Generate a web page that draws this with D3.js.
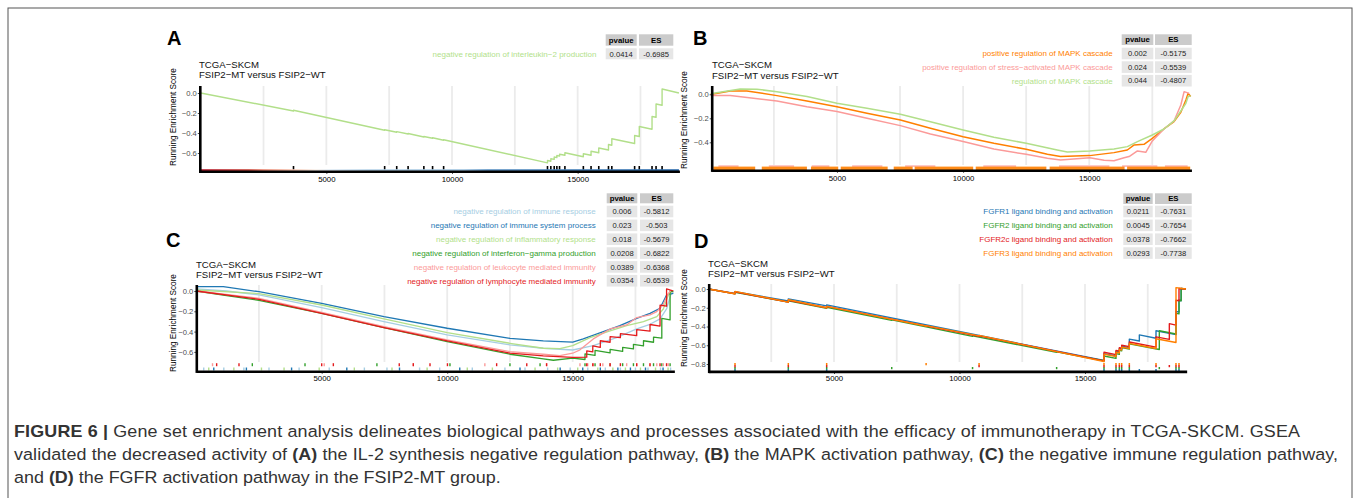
<!DOCTYPE html>
<html>
<head>
<meta charset="utf-8">
<script src="https://cdn.jsdelivr.net/npm/d3@7"></script>
<style>
  body { margin: 0; background: #fff; }
  text { font-family: "Liberation Sans", Arial, Helvetica, sans-serif; }
</style>
</head>
<body>
<div id="fig"></div>
<script>
// ---------------- data ----------------
var N_GENES = 19030;
var xTicks = [5000, 10000, 15000];
var xGrid = [2500, 5000, 7500, 10000, 12500, 15000, 17500];

// A
var aSets = ["negative regulation of interleukin\u22122 production"];
var aPvalue = ["0.0414"];
var aES = ["-0.6985"];
var aCurve = [[0,0],[3693,-0.18],[3693,-0.172],[7320,-0.372],[7320,-0.367],[7800,-0.392],[7800,-0.386],
  [8253,-0.41],[8253,-0.405],[8880,-0.44],[8880,-0.435],[9227,-0.453],[9227,-0.448],[9667,-0.472],[9667,-0.467],
  [13800,-0.6985],[13800,-0.675],[13933,-0.682],[13933,-0.657],[14067,-0.664],[14067,-0.64],[14173,-0.646],
  [14173,-0.625],[14280,-0.631],[14280,-0.612],[14493,-0.623],[14493,-0.597],[15227,-0.637],[15227,-0.607],
  [15533,-0.623],[15533,-0.582],[15840,-0.598],[15840,-0.55],[16227,-0.57],[16227,-0.515],[16360,-0.522],
  [16360,-0.458],[17267,-0.505],[17267,-0.425],[17453,-0.435],[17453,-0.335],[17960,-0.362],[17960,-0.235],
  [18120,-0.243],[18120,-0.11],[18360,-0.123],[18360,0.04],[19030,0.0]];
var aHits = [3693,7320,7800,8253,8880,9227,9667,13800,13933,14067,14173,14280,14493,15227,15533,15840,
  16227,16360,17267,17453,17960,18120,18360];
var aYTicks = [0, -0.2, -0.4, -0.6];

// B
var bSets = ["positive regulation of MAPK cascade",
  "positive regulation of stress\u2212activated MAPK cascade",
  "regulation of MAPK cascade"];
var bPvalue = ["0.002", "0.024", "0.044"];
var bES = ["-0.5175", "-0.5539", "-0.4807"];
var bCurves = [
  [[0,0],[106,0.003],[770,0.028],[1430,0.028],[2620,-0.011],[3810,-0.056],[5000,-0.103],[6190,-0.158],
   [7515,-0.214],[8705,-0.283],[10000,-0.353],[11220,-0.408],[12500,-0.458],[13340,-0.5],[13860,-0.5175],
   [15020,-0.511],[15980,-0.486],[16510,-0.464],[16780,-0.422],[17170,-0.417],[17500,-0.367],[17960,-0.289],
   [18360,-0.228],[18630,-0.15],[18830,-0.047],[18920,0.008],[19020,-0.019]],
  [[0,0],[106,-0.011],[770,-0.011],[2620,-0.056],[3810,-0.103],[5000,-0.144],[6190,-0.2],[7515,-0.261],
   [8705,-0.331],[10000,-0.394],[11220,-0.456],[12500,-0.5],[13340,-0.533],[13860,-0.547],[15020,-0.528],
   [15590,-0.55],[15980,-0.5539],[16380,-0.528],[16580,-0.519],[16910,-0.472],[17240,-0.483],[17500,-0.389],
   [17960,-0.289],[18360,-0.222],[18630,-0.089],[18760,0.022],[18960,0.008]],
  [[0,0],[106,0.008],[1164,0.044],[1826,0.042],[2620,0.022],[3810,-0.019],[5000,-0.075],[6190,-0.117],
   [7515,-0.167],[8705,-0.228],[10000,-0.297],[11220,-0.358],[12500,-0.408],[13730,-0.464],[14130,-0.4807],
   [15020,-0.472],[15980,-0.456],[16510,-0.436],[16910,-0.394],[17500,-0.339],[17960,-0.289],[18360,-0.222],
   [18630,-0.139],[18830,-0.075],[18920,-0.019],[19020,-0.014]]
];
// dense hit stretches of the rug (rank from, rank to)
var bRugOrange = [[100,1760],[2020,3810],[3970,5050],[5150,7010],[7250,8000],[8080,10400],[10500,13300],
  [13430,16400],[16500,19000]];
var bRugPink = [[300,1100],[2300,3300],[4000,4700],[5600,6800],[7700,8900],[10800,12100],[13800,15800],
  [16300,17700],[18000,18900]];
var bYTicks = [0, -0.2, -0.4];

// C
var cSets = ["negative regulation of immune response",
  "negative regulation of immune system process",
  "negative regulation of inflammatory response",
  "negative regulation of interferon\u2212gamma production",
  "negative regulation of leukocyte mediated immunity",
  "negative regulation of lymphocyte mediated immunity"];
var cPvalue = ["0.006", "0.023", "0.018", "0.0208", "0.0389", "0.0354"];
var cES = ["-0.5812", "-0.503", "-0.5679", "-0.6822", "-0.6368", "-0.6539"];
var cCurves = [
  [[0,0.02],[1214,0.0],[2500,-0.039],[5000,-0.164],[7480,-0.302],[10000,-0.433],[12500,-0.531],[13830,-0.564],
   [15000,-0.5812],[15820,-0.538],[16750,-0.459],[17550,-0.374],[18080,-0.328],[18480,-0.275],[18740,-0.177],
   [18940,-0.007],[19010,-0.013]],
  [[0,0.043],[1080,0.043],[2500,-0.007],[5000,-0.121],[7480,-0.252],[10000,-0.367],[12500,-0.466],[13830,-0.492],
   [15000,-0.503],[15420,-0.472],[16220,-0.4],[16880,-0.341],[17550,-0.269],[18080,-0.22],[18480,-0.17],
   [18740,-0.039],[19010,-0.023]],
  [[0,0.01],[2500,-0.026],[5000,-0.138],[7480,-0.275],[10000,-0.41],[12500,-0.515],[13830,-0.564],[14490,-0.5679],
   [15000,-0.538],[15690,-0.459],[16490,-0.393],[17150,-0.341],[17820,-0.302],[18350,-0.252],[18610,-0.177],
   [18810,-0.039],[18940,-0.007]],
  [[0,0],[1214,-0.046],[2500,-0.092],[5000,-0.22],[7480,-0.361],[10000,-0.498],[12500,-0.623],[13830,-0.669],
   [14230,-0.6822],[15000,-0.662],[15490,-0.675],[15490,-0.62],[15890,-0.635],[15890,-0.585],[16490,-0.61],
   [16490,-0.575],[16990,-0.595],[16990,-0.555],[17420,-0.57],[17420,-0.525],[17820,-0.54],[17820,-0.49],
   [18220,-0.505],[18220,-0.455],[18550,-0.465],[18550,-0.27],[18880,-0.285],[18880,0.0],[19010,-0.005]],
  [[0,0],[2500,-0.072],[5000,-0.21],[7480,-0.351],[10000,-0.482],[12500,-0.597],[13830,-0.623],[14490,-0.6368],
   [15000,-0.613],[15290,-0.58],[15820,-0.472],[16490,-0.374],[17150,-0.334],[17550,-0.262],[18080,-0.236],
   [18350,-0.203],[18610,-0.131],[18810,-0.023],[18940,0.01]],
  [[0,0],[2500,-0.082],[5000,-0.22],[7480,-0.361],[10000,-0.492],[12500,-0.613],[13830,-0.639],[15000,-0.6539],
   [15560,-0.652],[15560,-0.59],[15800,-0.6],[15800,-0.54],[16100,-0.555],[16100,-0.49],[16490,-0.505],
   [16490,-0.45],[16900,-0.46],[16900,-0.42],[17550,-0.44],[17550,-0.38],[18080,-0.395],[18080,-0.33],
   [18480,-0.345],[18480,-0.14],[18740,-0.15],[18740,0.02],[19010,0.0]]
];
var cHits = [
  [300,1100,1900,2900,4100,5300,6700,7600,8900,9700,11000,12300,13100,14000,14900,15600,16300,16900,17500,18000,18500,18900],
  [700,2000,3800,6000,8100,10500,12900,14500,15400,16100,16800,17300,17900,18600],
  [500,1500,2600,3500,4900,6300,7800,9200,10800,11800,13500,14400,15200,16000,16600,17100,17700,18300,18800],
  [2236,4335,7200,10110,12500,13700,15490,15890,16490,16990,17420,17820,18220,18550,18880],
  [650,5100,8650,11500,13960,15290,15600,15820,16200,16490,17150,17550,18080,18350,18610,18810],
  [815,1705,5000,5464,8090,8650,9315,10010,11970,13170,13960,15560,15800,16100,16490,16900,17550,18080,18480,18740]
];
var cYTicks = [0, -0.2, -0.4, -0.6];

// D
var dSets = ["FGFR1 ligand binding and activation", "FGFR2 ligand binding and activation",
  "FGFR2c ligand binding and activation", "FGFR3 ligand binding and activation"];
var dPvalue = ["0.0211", "0.0045", "0.0378", "0.0293"];
var dES = ["-0.7631", "-0.7654", "-0.7662", "-0.7738"];
var dCurves = [
  [[0,0],[1056,-0.047],[1056,-0.028],[3180,-0.128],[3180,-0.105],[4708,-0.18],[4708,-0.17],[15757,-0.7631],
   [15757,-0.69],[16235,-0.715],[16235,-0.665],[16368,-0.672],[16368,-0.635],[16461,-0.64],[16461,-0.61],
   [16766,-0.625],[16766,-0.535],[17165,-0.555],[17165,-0.49],[17829,-0.525],[17829,-0.445],[18625,-0.487],
   [18625,-0.24],[18745,-0.245],[18745,-0.12],[18830,-0.125],[18830,0.005],[19024,0.0]],
  [[0,0],[1056,-0.052],[1056,-0.035],[3180,-0.14],[3180,-0.125],[4708,-0.205],[4708,-0.195],[7300,-0.335],
   [7300,-0.33],[10520,-0.505],[10520,-0.5],[13870,-0.675],[13870,-0.67],[15757,-0.7654],[15757,-0.715],
   [16235,-0.74],[16235,-0.69],[16368,-0.697],[16368,-0.655],[16461,-0.66],[16461,-0.625],[16766,-0.64],
   [16766,-0.585],[17961,-0.645],[17961,-0.445],[18625,-0.48],[18625,-0.26],[18745,-0.265],[18745,-0.12],
   [18830,-0.125],[18830,0.005],[19024,0.0]],
  [[0,0],[1056,-0.05],[1056,-0.03],[3180,-0.14],[3180,-0.12],[4708,-0.2],[4708,-0.185],[10780,-0.505],
   [10780,-0.5],[15757,-0.7662],[15757,-0.675],[16235,-0.7],[16235,-0.655],[16368,-0.662],[16368,-0.625],
   [16461,-0.63],[16461,-0.6],[16766,-0.615],[16766,-0.565],[17829,-0.62],[17829,-0.51],[18360,-0.538],
   [18360,-0.37],[18625,-0.385],[18625,-0.12],[18745,-0.125],[18745,0.005],[19024,0.0]],
  [[0,0],[1056,-0.05],[1056,-0.025],[3180,-0.14],[3180,-0.115],[4708,-0.2],[4708,-0.185],[8670,-0.395],
   [8670,-0.39],[10780,-0.5],[10780,-0.495],[15757,-0.7738],[15757,-0.695],[16235,-0.72],[16235,-0.675],
   [16368,-0.682],[16368,-0.645],[16461,-0.65],[16461,-0.62],[16766,-0.635],[16766,-0.58],[17829,-0.635],
   [17829,-0.53],[18625,-0.57],[18625,0.015],[19024,0.0]]
];
var dHits = [
  [1056,3180,4708,15757,16235,16368,16461,16766,17165,17829,18625,18745],
  [1056,3180,4708,7300,10520,13870,15757,16235,16368,16461,16766,17961,18625,18745],
  [1056,3180,4708,10780,15757,16235,16368,16461,16766,17829,18360,18625,18745],
  [1056,3180,4708,8670,10780,15757,16235,16368,16461,16766,17829,18625,18745]
];
var dYTicks = [0, -0.2, -0.4, -0.6, -0.8];

var captionLines = [
  [["FIGURE 6 | ", true], ["Gene set enrichment analysis delineates biological pathways and processes associated with the efficacy of immunotherapy in TCGA-SKCM. GSEA", false]],
  [["validated the decreased activity of ", false], ["(A)", true], [" the IL-2 synthesis negative regulation pathway, ", false],
   ["(B)", true], [" the MAPK activation pathway, ", false], ["(C)", true], [" the negative immune regulation pathway,", false]],
  [["and ", false], ["(D)", true], [" the FGFR activation pathway in the FSIP2-MT group.", false]]
];

// ---------------- styles ----------------
var aColors = ["#b2df8a"];
var bColors = ["#ff7f00", "#fb9a99", "#b2df8a"];
var cColors = ["#a6cee3", "#1f78b4", "#b2df8a", "#33a02c", "#fb9a99", "#e31a1c"];
var dColors = ["#1f78b4", "#33a02c", "#e31a1c", "#ff7f00"];
var rankGradient = [[0,"#b2182b"],[0.1,"#c8453a"],[0.13,"#e8836e"],[0.19,"#f6c4b0"],[0.24,"#f7efe9"],
  [0.27,"#dfeaf3"],[0.35,"#b7d3e8"],[0.55,"#9fc3df"],[0.6,"#5d93c4"],[1,"#2b6aab"]];

var W = 1357, H = 498;
var svg = d3.select("#fig").append("svg").attr("width", W).attr("height", H);

svg.append("rect").attr("x", 8).attr("y", 8).attr("width", 1344).attr("height", 520)
  .attr("fill", "none").attr("stroke", "#555").attr("stroke-width", 1);

function setup(p) {
  var g = svg.append("g");
  var x = d3.scaleLinear().domain([0, N_GENES]).range([p.x0, p.x0 + p.kx * N_GENES]);
  var y = d3.scaleLinear().domain([0, -1]).range([p.yZero, p.yZero + p.ky]);

  g.selectAll("line.grid").data(xGrid).join("line")
    .attr("x1", d => x(d)).attr("x2", d => x(d))
    .attr("y1", p.top).attr("y2", p.lineBottom)
    .attr("stroke", "#ebebeb").attr("stroke-width", 1.8);

  // panel letter + titles
  svg.append("text").attr("x", p.letter[0]).attr("y", p.letter[1]).text(p.name)
    .attr("font-size", 20).attr("font-weight", "bold");
  svg.append("text").attr("x", p.title[0]).attr("y", p.title[1]).text("TCGA\u2212SKCM")
    .attr("font-size", 9.6).attr("fill", "#111");
  svg.append("text").attr("x", p.title[0]).attr("y", p.title[1] + 10.5).text("FSIP2\u2212MT versus FSIP2\u2212WT")
    .attr("font-size", 9.6).attr("fill", "#111");
  svg.append("text").attr("transform", "translate(" + p.ylab[0] + "," + p.ylab[1] + ") rotate(-90)")
    .attr("text-anchor", "middle").attr("font-size", 8.2).text("Running Enrichment Score");
  return { g: g, x: x, y: y, p: p };
}

function curves(c, data, colors, w) {
  var line = d3.line().x(d => c.x(d[0])).y(d => c.y(d[1]));
  c.g.selectAll("path.es" + c.p.name).data(data).join("path")
    .attr("d", line).attr("fill", "none")
    .attr("stroke", (d, i) => colors[i]).attr("stroke-width", w).attr("stroke-linejoin", "round");
}

function axes(c, yTicks) {
  var p = c.p;
  var ya = d3.axisLeft(c.y).tickValues(yTicks).tickFormat(d3.format(".1f")).tickSize(2.5).tickPadding(1);
  var gy = c.g.append("g").attr("transform", "translate(" + p.yAxisX + ",0)").call(ya);
  gy.select(".domain").remove();
  gy.selectAll("text").attr("font-size", 7.6).attr("fill", "#4d4d4d");
  gy.selectAll("line").attr("stroke", "#4d4d4d");

  var xa = d3.axisBottom(c.x).tickValues(xTicks).tickFormat(d3.format("d")).tickSize(2).tickPadding(p.xPad);
  var gx = c.g.append("g").attr("transform", "translate(0," + p.axisY + ")").call(xa);
  gx.select(".domain").remove();
  gx.selectAll("text").attr("font-size", 7.8).attr("fill", "#000");
  gx.selectAll("line").attr("stroke", "#333");

  c.g.append("line").attr("x1", p.yAxisX).attr("x2", p.yAxisX)
    .attr("y1", p.top).attr("y2", p.axisY + 1.2).attr("stroke", "#000").attr("stroke-width", 2.6);
  c.g.append("line").attr("x1", p.yAxisX).attr("x2", c.x(N_GENES) + 1)
    .attr("y1", p.axisY).attr("y2", p.axisY).attr("stroke", "#000").attr("stroke-width", 2.6);
}

function table(t, names, pv, es, colors) {
  var g = svg.append("g");
  var cols = [[t.pvX, t.pvW, "pvalue"], [t.esX, t.esW, "ES"]];
  cols.forEach(function (col) {
    g.append("rect").attr("x", col[0]).attr("y", t.headTop).attr("width", col[1]).attr("height", t.headH)
      .attr("fill", "#cbcbcb");
    g.append("text").attr("x", col[0] + col[1] / 2).attr("y", t.headTop + t.headH / 2 + 2.8)
      .attr("text-anchor", "middle").attr("font-size", 7.8).attr("font-weight", "bold").text(col[2]);
  });
  names.forEach(function (name, i) {
    var top = t.rowTop + i * t.rowPitch, mid = top + t.rowH / 2;
    [[t.pvX, t.pvW, pv[i]], [t.esX, t.esW, es[i]]].forEach(function (col) {
      g.append("rect").attr("x", col[0]).attr("y", top).attr("width", col[1]).attr("height", t.rowH)
        .attr("fill", "#e6e6e6");
      g.append("text").attr("x", col[0] + col[1] / 2).attr("y", mid + 2.7)
        .attr("text-anchor", "middle").attr("font-size", 7.6).attr("fill", "#222").text(col[2]);
    });
    g.append("text").attr("x", t.legendRight).attr("y", mid + 2.8).attr("text-anchor", "end")
      .attr("font-size", 8).attr("fill", colors[i]).text(name);
  });
}

// ---------------- panel A ----------------
var pA = { name: "A", x0: 200.7, kx: 0.02513, yAxisX: 200.3, yZero: 93, ky: 100, top: 86, lineBottom: 165,
  axisY: 171.8, xPad: 2.5, letter: [167, 45], title: [199, 67.7], ylab: [176, 117] };
var cA = setup(pA);
curves(cA, [aCurve], aColors, 1.4);
cA.g.selectAll("line.hitA").data(aHits).join("line")
  .attr("x1", d => cA.x(d)).attr("x2", d => cA.x(d)).attr("y1", 166).attr("y2", 171)
  .attr("stroke", "#000").attr("stroke-width", 1.6);
var grad = svg.append("defs").append("linearGradient").attr("id", "rankGrad");
grad.selectAll("stop").data(rankGradient).join("stop")
  .attr("offset", d => d[0]).attr("stop-color", d => d[1]);
cA.g.append("rect").attr("x", cA.x(0)).attr("y", 169.2).attr("width", cA.x(N_GENES) - cA.x(0)).attr("height", 2)
  .attr("fill", "url(#rankGrad)");
axes(cA, aYTicks);
table({ legendRight: 596.5, pvX: 605.7, pvW: 31, esX: 639, esW: 34.3, headTop: 34.3, headH: 11.4,
  rowTop: 48.3, rowPitch: 13.6, rowH: 11 }, aSets, aPvalue, aES, aColors);

// ---------------- panel B ----------------
var pB = { name: "B", x0: 710.8, kx: 0.02523, yAxisX: 712.2, yZero: 94.3, ky: 120, top: 86, lineBottom: 165,
  axisY: 170.7, xPad: 3, letter: [693, 45], title: [712, 68.3], ylab: [687, 120] };
var cB = setup(pB);
curves(cB, bCurves, bColors, 1.5);
cB.g.selectAll("rect.pk").data(bRugPink).join("rect")
  .attr("x", d => cB.x(d[0])).attr("width", d => cB.x(d[1]) - cB.x(d[0]))
  .attr("y", 165.3).attr("height", 1.6).attr("fill", "#fb9a99").attr("opacity", 0.75);
cB.g.selectAll("rect.or").data(bRugOrange).join("rect")
  .attr("x", d => cB.x(d[0])).attr("width", d => cB.x(d[1]) - cB.x(d[0]))
  .attr("y", 166.6).attr("height", 3.6).attr("fill", "#ff7f00").attr("opacity", 0.9);
axes(cB, bYTicks);
table({ legendRight: 1112.7, pvX: 1121.7, pvW: 31.6, esX: 1155, esW: 36.7, headTop: 34.3, headH: 10.7,
  rowTop: 47.7, rowPitch: 13.6, rowH: 11.6 }, bSets, bPvalue, bES, bColors);

// ---------------- panel C ----------------
var pC = { name: "C", x0: 196.2, kx: 0.0251, yAxisX: 196.8, yZero: 291, ky: 101.5, top: 285, lineBottom: 362,
  axisY: 371.7, xPad: 1.5, letter: [166, 247], title: [196, 267.7], ylab: [176, 323] };
var cC = setup(pC);
curves(cC, cCurves, cColors, 1.3);
var cRowY = [367.5, 367.5, 367.5, 363.2, 363.2, 363.2];
cHits.forEach(function (hits, i) {
  cC.g.selectAll("line.hc" + i).data(hits).join("line")
    .attr("x1", d => cC.x(d)).attr("x2", d => cC.x(d))
    .attr("y1", cRowY[i]).attr("y2", cRowY[i] + 3)
    .attr("stroke", cColors[i]).attr("stroke-width", 1.4);
});
axes(cC, cYTicks);
table({ legendRight: 595.7, pvX: 606.7, pvW: 30.6, esX: 640, esW: 33.3, headTop: 193.3, headH: 10,
  rowTop: 205.7, rowPitch: 13.85, rowH: 11.6 }, cSets, cPvalue, cES, cColors);

// ---------------- panel D ----------------
var pD = { name: "D", x0: 708.5, kx: 0.0251, yAxisX: 709.2, yZero: 289, ky: 93.75, top: 284, lineBottom: 362,
  axisY: 371.9, xPad: 1.5, letter: [694, 248], title: [708, 266.7], ylab: [687, 318] };
var cD = setup(pD);
curves(cD, dCurves, dColors, 1.4);
var dRowY = [369, 367, 365, 363];
dHits.forEach(function (hits, i) {
  cD.g.selectAll("line.hd" + i).data(hits).join("line")
    .attr("x1", d => cD.x(d)).attr("x2", d => cD.x(d))
    .attr("y1", dRowY[i]).attr("y2", dRowY[i] + 2.2)
    .attr("stroke", dColors[i]).attr("stroke-width", 1.5);
});
axes(cD, dYTicks);
table({ legendRight: 1112.7, pvX: 1123.3, pvW: 29.4, esX: 1155, esW: 36.7, headTop: 193.3, headH: 10.7,
  rowTop: 205.7, rowPitch: 13.85, rowH: 11.6 }, dSets, dPvalue, dES, dColors);

// ---------------- caption ----------------
// justified block: first two lines are stretched to the full width, last line is natural
var capBase = [436.6, 460, 483.4];
var capWidth = [1286, 1324, null];
var capScale = 1.1;
captionLines.forEach(function (parts, i) {
  var t = svg.append("text")
    .attr("transform", "translate(14," + capBase[i] + ") scale(" + capScale + ",1)")
    .attr("font-size", 16.3).attr("fill", "#333");
  parts.forEach(function (pt) {
    t.append("tspan").attr("font-weight", pt[1] ? "bold" : null).text(pt[0]);
  });
  if (capWidth[i]) {
    t.attr("textLength", capWidth[i] / capScale).attr("lengthAdjust", "spacing");
  }
});
</script>
</body>
</html>
